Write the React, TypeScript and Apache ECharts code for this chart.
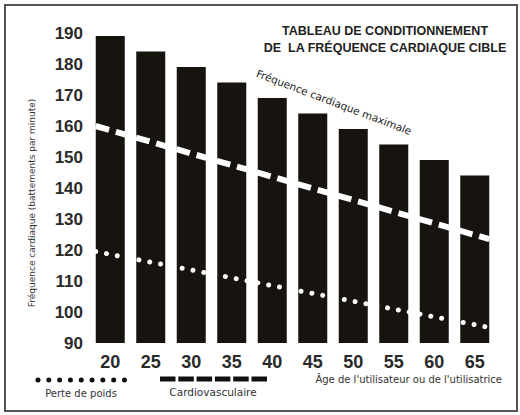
import { useEffect, useRef } from 'react';
import * as echarts from 'echarts';

// âges (catégories) et fréquence cardiaque maximale
const ages = ['20', '25', '30', '35', '40', '45', '50', '55', '60', '65'];
const maxHeartRate = [189, 184, 179, 174, 169, 164, 159, 154, 149, 144];

// lignes blanches : extrémités (âge, bpm)
const lineAges = [18.2, 66.8];
const cardioValues = [160, 123.5];
const weightLossValues = [119.5, 95];

const yTicks = { min: 90, max: 190, interval: 10 };

const FONT = 'Liberation Sans, Arial, sans-serif';
const WIDE = 'DejaVu Sans, Verdana, sans-serif';

export default function App() {
  const chartRef = useRef<HTMLDivElement>(null);

  useEffect(() => {
    if (!chartRef.current) return;
    const chart = echarts.init(chartRef.current, undefined, { renderer: 'svg' });

    const option: echarts.EChartsOption = {
      animation: false,
      backgroundColor: '#ffffff',
      grid: { left: 90, right: 25, top: 33, bottom: 72 },
      xAxis: [
        {
          type: 'category',
          data: ages,
          axisLine: { show: false },
          axisTick: { show: false },
          axisLabel: {
            margin: 10,
            color: '#2a2a2a',
            fontFamily: FONT,
            fontWeight: 'bold',
            fontSize: 18,
          },
        },
        {
          type: 'value',
          min: 17.5,
          max: 67.5,
          show: false,
        },
      ],
      yAxis: {
        type: 'value',
        min: yTicks.min,
        max: yTicks.max,
        interval: yTicks.interval,
        axisLine: { show: false },
        axisTick: { show: false },
        splitLine: { show: false },
        axisLabel: {
          margin: 7,
          color: '#2a2a2a',
          fontFamily: FONT,
          fontWeight: 'bold',
          fontSize: 17,
        },
      },
      series: [
        {
          type: 'bar',
          data: maxHeartRate,
          barWidth: 29,
          itemStyle: { color: '#17130f' },
        },
        {
          type: 'line',
          xAxisIndex: 1,
          data: lineAges.map((a, i) => [a, cardioValues[i]]),
          symbol: 'none',
          lineStyle: { color: '#ffffff', width: 6, type: [14, 7] },
        },
        {
          type: 'line',
          xAxisIndex: 1,
          data: lineAges.map((a, i) => [a, weightLossValues[i]]),
          symbol: 'none',
          lineStyle: { color: '#ffffff', width: 5, type: [0.01, 11], cap: 'round' },
        },
      ],
      graphic: [
        {
          type: 'rect',
          shape: { x: 5, y: 5, width: 512, height: 406 },
          style: { fill: 'none', stroke: '#555', lineWidth: 2 },
          silent: true,
        },
        {
          type: 'text',
          x: 385,
          y: 31,
          style: {
            text: 'TABLEAU DE CONDITIONNEMENT',
            fill: '#222',
            font: `bold 12.5px ${FONT}`,
            align: 'center',
            verticalAlign: 'middle',
          },
        },
        {
          type: 'text',
          x: 385,
          y: 48,
          style: {
            text: 'DE  LA FRÉQUENCE CARDIAQUE CIBLE',
            fill: '#222',
            font: `bold 12.5px ${FONT}`,
            align: 'center',
            verticalAlign: 'middle',
          },
        },
        {
          type: 'text',
          x: 334,
          y: 102,
          rotation: -0.363,
          style: {
            text: 'Fréquence cardiaque maximale',
            fill: '#222',
            font: `10.5px ${WIDE}`,
            align: 'center',
            verticalAlign: 'middle',
          },
        },
        // titre de l'axe vertical
        {
          type: 'text',
          x: 32,
          y: 203,
          rotation: Math.PI / 2,
          style: {
            text: 'Fréquence cardiaque (battements par minute)',
            fill: '#333',
            font: `9px ${WIDE}`,
            align: 'center',
            verticalAlign: 'middle',
          },
        },
        // légende : perte de poids
        {
          type: 'line',
          shape: { x1: 38, y1: 380, x2: 126, y2: 380 },
          style: { stroke: '#111', lineWidth: 5, lineDash: [0.01, 10.8], lineCap: 'round' },
        },
        {
          type: 'text',
          x: 81,
          y: 393,
          style: {
            text: 'Perte de poids',
            fill: '#333',
            font: `10px ${WIDE}`,
            align: 'center',
            verticalAlign: 'middle',
          },
        },
        // légende : cardiovasculaire
        {
          type: 'line',
          shape: { x1: 160, y1: 379, x2: 268, y2: 379 },
          style: { stroke: '#111', lineWidth: 5, lineDash: [15.5, 2.8] },
        },
        {
          type: 'text',
          x: 213,
          y: 392,
          style: {
            text: 'Cardiovasculaire',
            fill: '#333',
            font: `10.5px ${WIDE}`,
            align: 'center',
            verticalAlign: 'middle',
          },
        },
        {
          type: 'text',
          x: 502,
          y: 379,
          style: {
            text: "Âge de l'utilisateur ou de l'utilisatrice",
            fill: '#333',
            font: `10px ${WIDE}`,
            align: 'right',
            verticalAlign: 'middle',
          },
        },
      ],
    };

    chart.setOption(option);
    return () => chart.dispose();
  }, []);

  return (
    <div
      ref={chartRef}
      style={{ position: 'absolute', left: 0, top: 0, width: 520, height: 415 }}
    />
  );
}
